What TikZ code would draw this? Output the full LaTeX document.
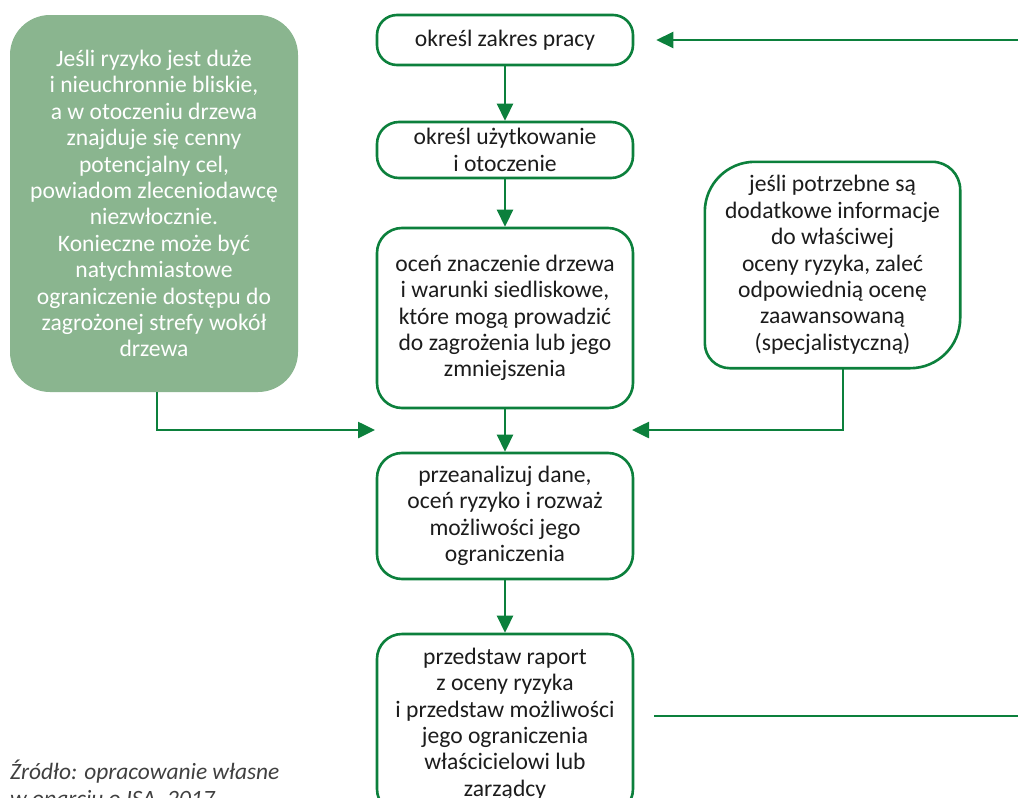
\documentclass[tikz,border=0pt]{standalone}
\usepackage{fontspec}
\setmainfont{Carlito}
\usetikzlibrary{arrows.meta,calc}
\definecolor{flowgreen}{RGB}{12,128,60}
\definecolor{alertfill}{RGB}{138,181,143}
\definecolor{ink}{RGB}{28,28,28}
\definecolor{notegray}{RGB}{64,64,64}
\begin{document}
\begin{tikzpicture}[x=1pt,y=-1pt,
  txt/.style={font=\fontsize{23.6}{26.4}\selectfont, align=center, text=ink, inner sep=0pt},
  stepbox/.style={txt, draw=flowgreen, line width=2.6pt, rounded corners=25pt,
    minimum width=256pt, fill=white},
  alertbox/.style={txt, text=white, fill=alertfill, rounded corners=40pt,
    minimum width=288pt, minimum height=377pt},
  conn/.style={draw=flowgreen, line width=2.6pt},
  arr/.style={conn, -{Triangle[length=17pt,width=16pt]}},
  note/.style={font=\fontsize{23.4}{27}\selectfont\itshape, text=notegray, anchor=base west, inner sep=0pt},
]
\useasboundingbox (0,0) rectangle (1018,798);

% main column of steps
\node[stepbox, minimum height=50pt, rounded corners=20pt] (zakres) at (505,40) {\raisebox{-2pt}{określ zakres pracy}};
\node[stepbox, minimum height=56pt, rounded corners=22pt] (uzytk) at (505,150) {określ użytkowanie\\i otoczenie};
\node[stepbox, minimum height=180pt] (ocen) at (505,318) {oceń znaczenie drzewa\\i warunki siedliskowe,\\które mogą prowadzić\\do zagrożenia lub jego\\zmniejszenia};
\node[stepbox, minimum height=126pt] (analiza) at (505,516) {przeanalizuj dane,\\oceń ryzyko i rozważ\\możliwości jego\\ograniczenia};
\node[stepbox, minimum height=180pt] (raport) at (505,724) {przedstaw raport\\z oceny ryzyka\\i przedstaw możliwości\\jego ograniczenia\\właścicielowi lub\\zarządcy};

% urgent warning on the left
\node[alertbox] (alarm) at (154,203.5) {Jeśli ryzyko jest duże\\i nieuchronnie bliskie,\\a w otoczeniu drzewa\\znajduje się cenny\\potencjalny cel,\\powiadom zleceniodawcę\\niezwłocznie.\\Konieczne może być\\natychmiastowe\\ograniczenie dostępu do\\zagrożonej strefy wokół\\drzewa};

% advanced assessment note on the right (unequal corner radii)
\node[txt, minimum width=255pt, minimum height=206pt] (dodatkowe) at (832.5,265) {};
\draw[draw=flowgreen, line width=2.6pt, fill=white]
  ([yshift=-50pt]dodatkowe.north west) arc[start angle=180, end angle=90, radius=50pt]
  -- ([xshift=-28pt]dodatkowe.north east) arc[start angle=90, end angle=0, radius=28pt]
  -- ([yshift=50pt]dodatkowe.south east) arc[start angle=0, end angle=-90, radius=50pt]
  -- ([xshift=25pt]dodatkowe.south west) arc[start angle=270, end angle=180, radius=25pt]
  -- cycle;
\node[txt] at (dodatkowe.center) {jeśli potrzebne są\\dodatkowe informacje\\do właściwej\\oceny ryzyka, zaleć\\odpowiednią ocenę\\zaawansowaną\\(specjalistyczną)};

% connectors
\coordinate (feedIn) at (1018,40);
\coordinate (feedOut) at (1018,716);
\coordinate (joinL) at (375,430);
\coordinate (joinR) at (632,430);

\draw[arr, shorten >=22pt] (feedIn) -- (zakres.east);
\draw[arr] (zakres.south) -- (uzytk.north);
\draw[arr] (uzytk.south) -- (ocen.north);
\draw[arr] (ocen.south) -- (analiza.north);
\draw[arr] (analiza.south) -- (raport.north);
\draw[arr] ([xshift=3pt]alarm.south) |- (joinL);
\draw[arr] ([xshift=10.5pt]dodatkowe.south) |- (joinR);
\draw[conn, shorten <=20pt] (raport.east |- feedOut) -- (feedOut);

% source note
\node[note] (zrodlo) at (10,779) {Źródło: opracowanie własne};
\node[note] (zrodlo2) at (10,806) {w oparciu o ISA, 2017};
\end{tikzpicture}
\end{document}
